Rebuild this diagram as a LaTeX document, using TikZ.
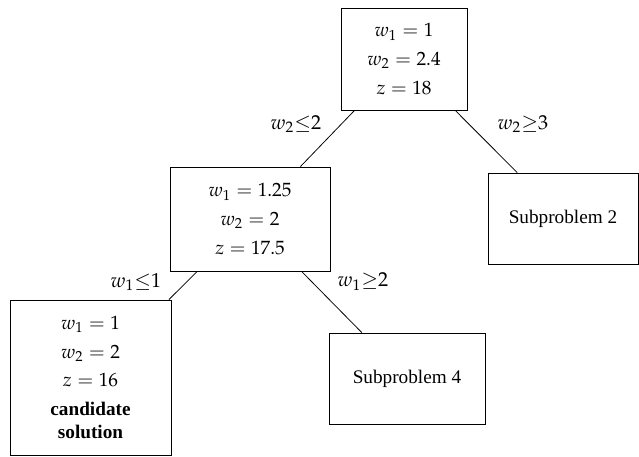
\documentclass[tikz,border=0pt]{standalone}
\usepackage{mathpazo}
\usepackage[no-math]{fontspec}
\setmainfont{Liberation Serif}[BoldFont={Liberation Serif Bold}]
\begin{document}
\begin{tikzpicture}[x=0.52pt,y=0.52pt,yscale=-1,xscale=1,
  box/.style={draw,line width=0.45pt,align=center,inner sep=0pt},
  lbl/.style={inner sep=0.75pt,scale=1.05}]
\useasboundingbox (0,0) rectangle (639,456);
\node [box,minimum width=126*0.52pt,minimum height=102*0.52pt] (root) at (404,59) {$w_1=1$\\[3pt]$w_2=2.4$\\[3pt]$z=18$};
\node [box,minimum width=160*0.52pt,minimum height=104*0.52pt] (relax) at (250,219) {$w_1=1.25$\\[3pt]$w_2=2$\\[3pt]$z=17.5$};
\node [box,minimum width=150*0.52pt,minimum height=91*0.52pt] (subtwo) at (563,218.5) {Subproblem 2};
\node [box,minimum width=161*0.52pt,minimum height=155*0.52pt] (cand) at (90.5,377.5) {$w_1=1$\\[3pt]$w_2=2$\\[3pt]$z=16$\\[3pt]\textbf{candidate}\\\textbf{solution}};
\node [box,minimum width=156*0.52pt,minimum height=91*0.52pt] (subfour) at (407,378.5) {Subproblem 4};
\draw [line width=0.4pt] (root) -- (relax);
\draw [line width=0.4pt] (root) -- (subtwo);
\draw [line width=0.4pt] (relax) -- (cand);
\draw [line width=0.4pt] (relax) -- (subfour);
\node [lbl] (lup) at (296,124) {$w_2{\leq}2$};
\node [lbl] (rup) at (523,124) {$w_2{\geq}3$};
\node [lbl] (llow) at (136,282) {$w_1{\leq}1$};
\node [lbl] (rlow) at (363,282) {$w_1{\geq}2$};
\end{tikzpicture}
\end{document}
